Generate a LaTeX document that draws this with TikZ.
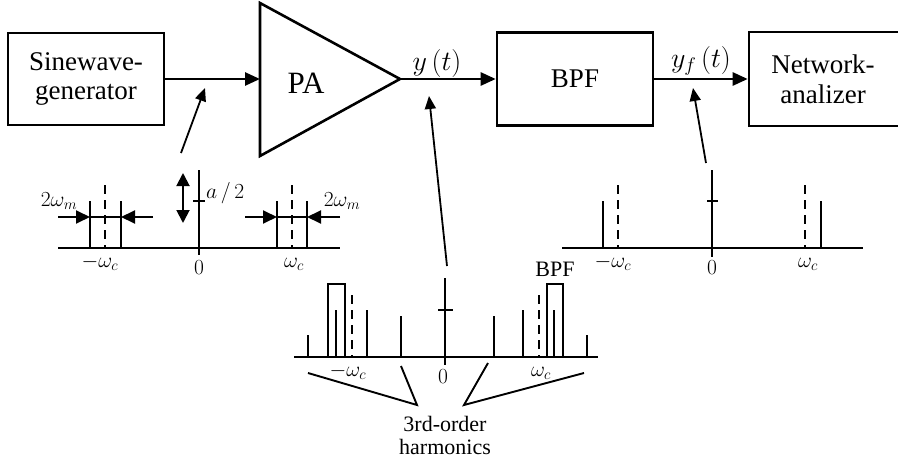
\RequirePackage{fix-cm}
\documentclass[tikz,border=0pt]{standalone}
\usepackage{fontspec}
\setmainfont{Liberation Serif}
\usetikzlibrary{arrows.meta}
\begin{document}
\begin{tikzpicture}[x=1pt,y=-1pt,
  box/.style={draw,line width=2.6pt,minimum width=156pt,minimum height=93pt,font=\fontsize{27}{29}\selectfont,align=center,inner sep=0pt},
  conn/.style={line width=2.6pt,-{Triangle[length=15pt,width=13pt]}},
  ann/.style={line width=1.8pt,-{Triangle[length=13pt,width=11pt]}},
  sp/.style={line width=1.9pt},
  dsh/.style={line width=1.9pt,dash pattern=on 9pt off 6pt},
  lab/.style={font=\fontsize{21.5}{23}\selectfont,inner sep=0pt},
  sig/.style={font=\fontsize{28}{30}\selectfont,inner sep=0pt},
  wid/.style={line width=1.9pt,-{Triangle[length=14pt,width=13pt]}},
  dbl/.style={line width=1.9pt,{Triangle[length=13pt,width=13pt]}-{Triangle[length=13pt,width=13pt]}},
]
\useasboundingbox (0,0) rectangle (898,463);

% ---- block diagram ----
\node[box, minimum height=92pt] (sg) at (86,79) {Sinewave-\\generator};
\draw[line width=2.6pt] (260,3) -- (400,79) -- (260,156) -- cycle;
\coordinate (pain) at (260,79);
\coordinate (paout) at (400,79);
\node[inner sep=0pt,font=\fontsize{31}{33}\selectfont] (pa) at (306,83) {PA};
\node[box] (bpf) at (575,79) {BPF};
\node[box, minimum width=170pt, minimum height=94pt] (na) at (834,79) {};
\node[font=\fontsize{27}{30}\selectfont,align=center,inner sep=0pt] (natext) at (823,79) {Network-\\analizer};

\draw[conn] (sg.east) -- (pain);
\draw[conn] (paout) -- (bpf.west);
\draw[conn] (bpf.east) -- (na.west);

\node[sig] (yt) at (437,64) {$y\,(t)$};
\node[sig] (yft) at (701,61) {$y_f\,(t)$};

% ---- annotation arrows ----
\coordinate (a1s) at (181,153); \coordinate (a1e) at (205,88);
\coordinate (a2s) at (447,266); \coordinate (a2e) at (429,96);
\coordinate (a3s) at (706,163); \coordinate (a3e) at (693,88);
\draw[ann] (a1s) -- (a1e);
\draw[ann] (a2s) -- (a2e);
\draw[ann] (a3s) -- (a3e);

% ---- left spectrum ----
\draw[sp] (58,248) -- (340,248);
\draw[sp] (199,170) -- (199,255);
\draw[sp] (193,201) -- (205,201);
\draw[sp] (90,201) -- (90,248) (121,201) -- (121,248) (90,217) -- (121,217);
\draw[sp] (277,201) -- (277,248) (307,201) -- (307,248) (277,217) -- (307,217);
\draw[dsh] (105,185) -- (105,248);
\draw[dsh] (292,185) -- (292,248);
\draw[wid] (58,217) -- (90,217);
\draw[wid] (153,217) -- (121,217);
\draw[wid] (245,217) -- (277,217);
\draw[wid] (340,217) -- (307,217);
\draw[dbl] (183,173) -- (183,223);
\node[lab,anchor=west] (ahalf) at (206,193) {$a\,/\,2$};
\node[lab] (wm1) at (59,201) {$2\omega_m$};
\node[lab] (wm2) at (342,201) {$2\omega_m$};
\node[lab,anchor=base] (l1a) at (100,267) {$-\omega_c$};
\node[lab,anchor=base] (l1b) at (199,274) {$0$};
\node[lab,anchor=base] (l1c) at (294,267) {$\omega_c$};

% ---- middle spectrum ----
\draw[sp] (294,357) -- (598,357);
\draw[sp] (445,278) -- (445,365);
\draw[sp] (438,310) -- (453,310);
\draw[sp] (308,335) -- (308,357) (336,310) -- (336,357) (367,310) -- (367,357)
          (401,316) -- (401,357) (494,316) -- (494,357) (523,310) -- (523,357)
          (554,310) -- (554,357) (587,335) -- (587,357);
\draw[sp] (328,357) -- (328,284) -- (345,284) -- (345,357);
\draw[sp] (547,357) -- (547,284) -- (563,284) -- (563,357);
\draw[dsh] (352,295) -- (352,357);
\draw[dsh] (539,295) -- (539,357);
\node[lab,anchor=base] (l2a) at (348,376) {$-\omega_c$};
\node[lab,anchor=base] (l2b) at (443,383) {$0$};
\node[lab,anchor=base] (l2c) at (541,376) {$\omega_c$};
\node[lab,anchor=base,font=\fontsize{22}{23}\selectfont] (bpflab) at (555,276) {BPF};
\node[font=\fontsize{22}{23}\selectfont,align=center,inner sep=0pt] (harm) at (445,435) {3rd-order\\harmonics};
\coordinate (h1) at (417,405); \coordinate (h2) at (464,405);
\draw[sp] (308,373) -- (h1) -- (401,366);
\draw[sp] (488,363) -- (h2) -- (584,373);

% ---- right spectrum ----
\draw[sp] (562,248) -- (863,248);
\draw[sp] (712,170) -- (712,257);
\draw[sp] (707,201) -- (718,201);
\draw[sp] (603,201) -- (603,248) (821,201) -- (821,248);
\draw[dsh] (618,185) -- (618,248);
\draw[dsh] (805,185) -- (805,248);
\node[lab,anchor=base] (l3a) at (613,267) {$-\omega_c$};
\node[lab,anchor=base] (l3b) at (712,274) {$0$};
\node[lab,anchor=base] (l3c) at (808,267) {$\omega_c$};
\end{tikzpicture}
\end{document}
